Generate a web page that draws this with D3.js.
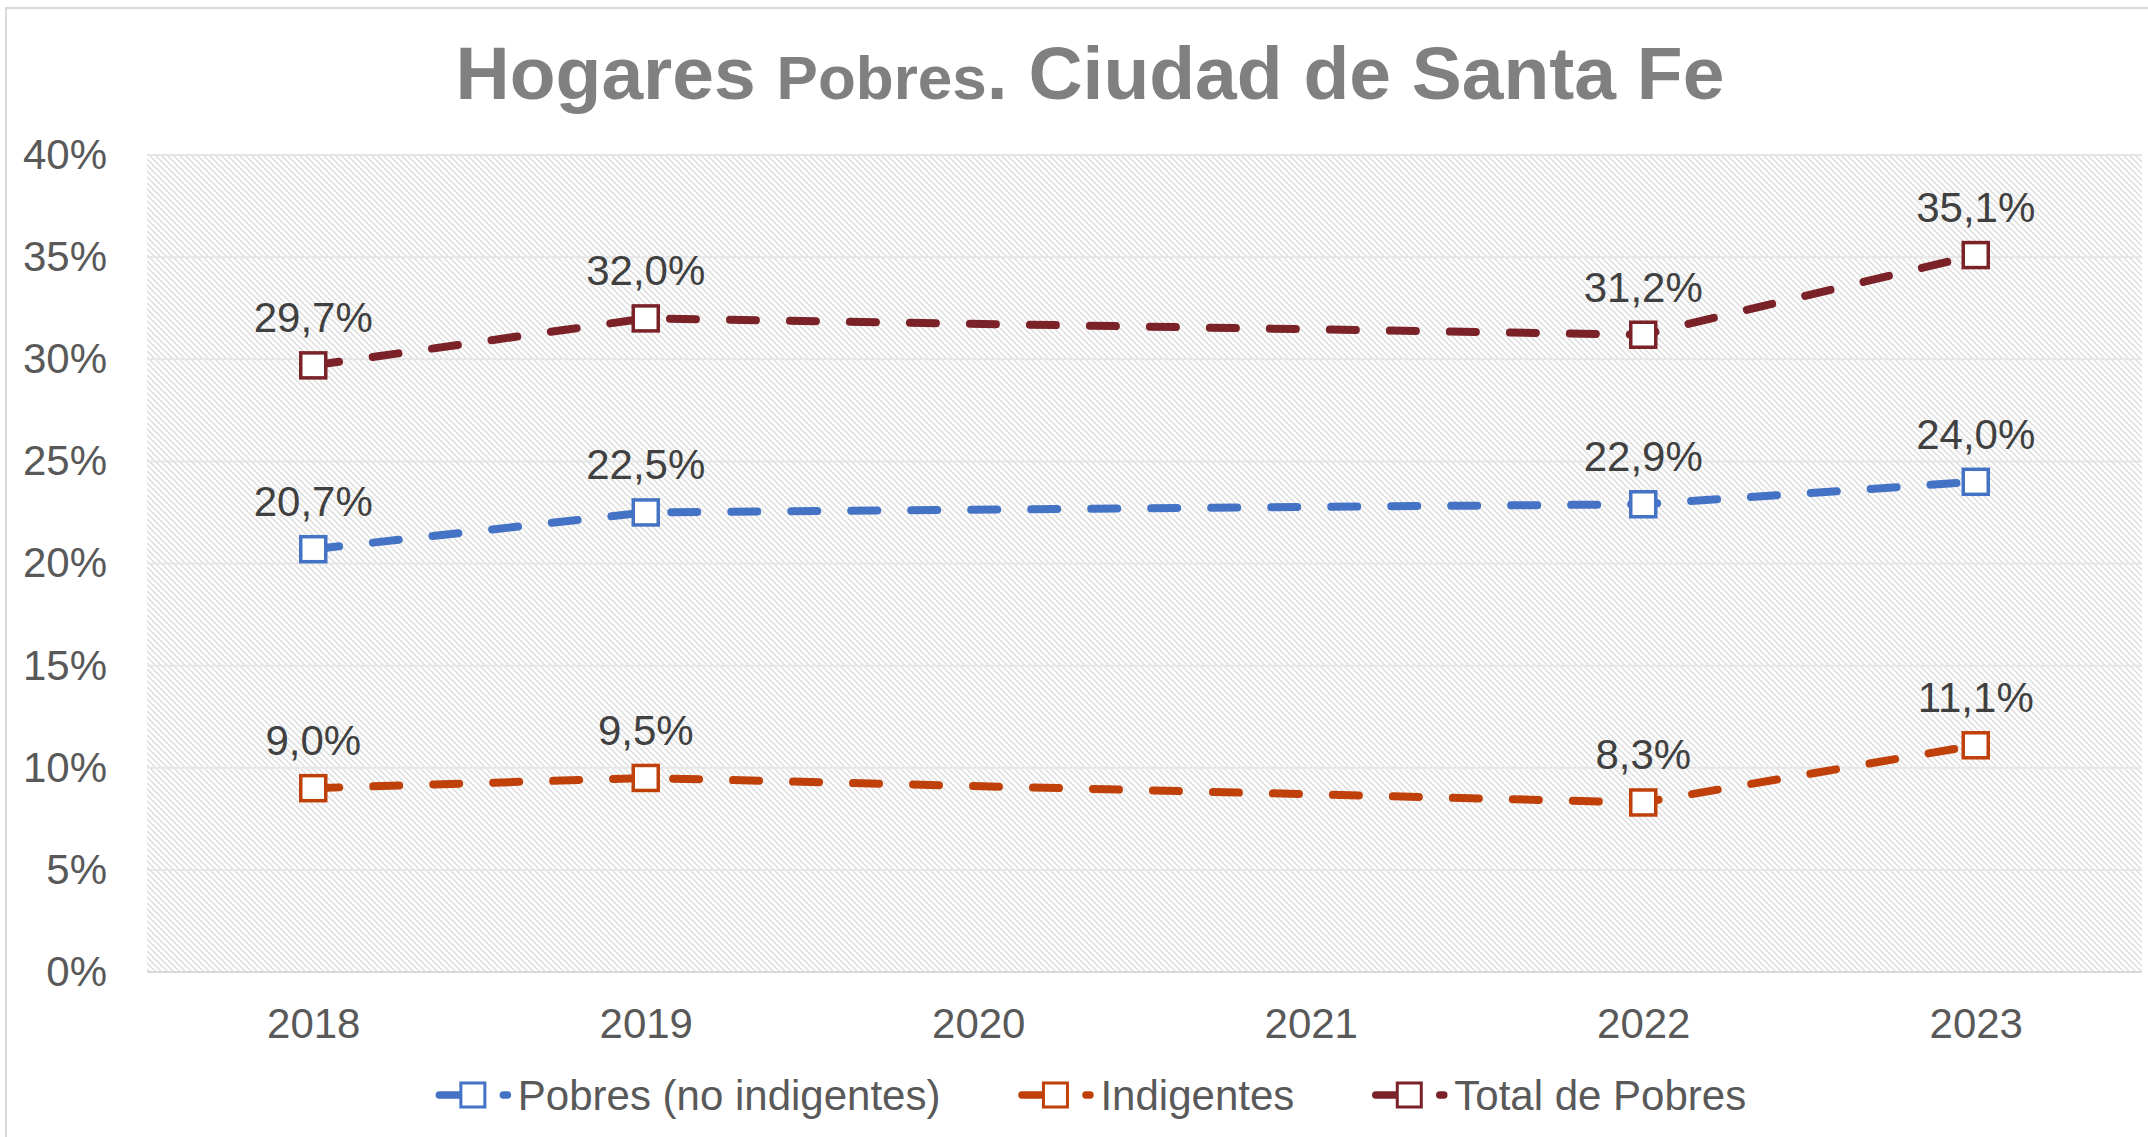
<!DOCTYPE html>
<html>
<head>
<meta charset="utf-8">
<style>
    body { margin: 0; background: #ffffff; }
    svg { display: block; font-family: "Liberation Sans", Arial, sans-serif; }
</style>
<script src="https://cdn.jsdelivr.net/npm/d3@7"></script>
</head>
<body>
<svg id="chart" width="2148" height="1137"></svg>
<script>
    // years on the x axis (2020 and 2021 have no data, the line just joins the gap)
    var years = ["2018", "2019", "2020", "2021", "2022", "2023"];
    var yTicks = [0, 0.05, 0.10, 0.15, 0.20, 0.25, 0.30, 0.35, 0.40];

    var pobresNoIndig = [0.207, 0.225, null, null, 0.229, 0.240];
    var indigentes    = [0.090, 0.095, null, null, 0.083, 0.111];
    var totalPobres   = [0.297, 0.320, null, null, 0.312, 0.351];

    var seriesNames  = ["Pobres (no indigentes)", "Indigentes", "Total de Pobres"];
    var seriesColors = ["#4472C4", "#C0400A", "#7A2228"];
    var seriesValues = [pobresNoIndig, indigentes, totalPobres];

    var svg = d3.select("#chart");
    var plot = { left: 147, right: 2142, top: 155, bottom: 972 };

    var x = d3.scalePoint().domain(years).range([plot.left, plot.right]).padding(0.5);
    var y = d3.scaleLinear().domain([0, 0.40]).range([plot.bottom, plot.top]);

    var pct = function (v) { return d3.format(".1f")(v * 100).replace(".", ",") + "%"; };

    // outer chart frame
    svg.append("rect").attr("x", 6).attr("y", 8).attr("width", 2200).attr("height", 1200)
        .attr("fill", "none").attr("stroke", "#d9d9d9").attr("stroke-width", 2);

    // hatch pattern for the plot area
    var defs = svg.append("defs");
    var pat = defs.append("pattern").attr("id", "hatch")
        .attr("patternUnits", "userSpaceOnUse").attr("width", 6).attr("height", 6);
    pat.append("rect").attr("width", 6).attr("height", 6).attr("fill", "#ffffff");
    pat.append("path").attr("d", "M0,0 L6,6 M-1,5 L1,7 M5,-1 L7,1")
        .attr("stroke", "#dcdcdc").attr("stroke-width", 1.4);

    svg.append("rect")
        .attr("x", plot.left).attr("y", plot.top)
        .attr("width", plot.right - plot.left).attr("height", plot.bottom - plot.top)
        .attr("fill", "url(#hatch)");

    // gridlines
    svg.append("g").selectAll("line").data(yTicks.slice(1)).join("line")
        .attr("x1", plot.left).attr("x2", plot.right)
        .attr("y1", function (d) { return y(d); }).attr("y2", function (d) { return y(d); })
        .attr("stroke", "#e6e6e6").attr("stroke-width", 2);

    // title
    var title = svg.append("text").attr("x", 1090).attr("y", 99)
        .attr("text-anchor", "middle").attr("fill", "#808080").attr("font-weight", "bold");
    title.append("tspan").attr("font-size", 75).text("Hogares ");
    title.append("tspan").attr("font-size", 62).text("Pobres");
    title.append("tspan").attr("font-size", 75).text(". Ciudad de Santa Fe");

    // y axis
    var yAxis = svg.append("g").attr("transform", "translate(" + plot.left + ",0)")
        .call(d3.axisLeft(y).tickValues(yTicks).tickFormat(d3.format(".0%")).tickSize(0).tickPadding(40));
    yAxis.select(".domain").remove();
    yAxis.selectAll("text").attr("font-size", 42).attr("fill", "#595959")
        .attr("font-family", "Liberation Sans, Arial, sans-serif");

    // x axis
    var xAxis = svg.append("g").attr("transform", "translate(0," + plot.bottom + ")")
        .call(d3.axisBottom(x).tickSize(0).tickSizeOuter(0).tickPadding(36));
    xAxis.select(".domain").attr("stroke", "#d9d9d9").attr("stroke-width", 2)
        .attr("d", "M" + plot.left + ",0H" + plot.right);
    xAxis.selectAll("text").attr("font-size", 42).attr("fill", "#595959")
        .attr("font-family", "Liberation Sans, Arial, sans-serif");

    var line = d3.line()
        .x(function (d) { return x(d.year); })
        .y(function (d) { return y(d.value); });

    seriesValues.forEach(function (vals, i) {
        var pts = years.map(function (yr, j) { return { year: yr, value: vals[j] }; })
            .filter(function (d) { return d.value !== null; });
        var g = svg.append("g");
        g.append("path").datum(pts).attr("d", line)
            .attr("fill", "none").attr("stroke", seriesColors[i]).attr("stroke-width", 8)
            .attr("stroke-linecap", "round").attr("stroke-dasharray", "26,34");
        g.selectAll("rect").data(pts).join("rect")
            .attr("x", function (d) { return x(d.year) - 12.5; })
            .attr("y", function (d) { return y(d.value) - 12.5; })
            .attr("width", 25).attr("height", 25)
            .attr("fill", "#ffffff").attr("stroke", seriesColors[i]).attr("stroke-width", 3.5);
        g.selectAll("text").data(pts).join("text")
            .attr("x", function (d) { return x(d.year); })
            .attr("y", function (d) { return y(d.value) - 33; })
            .attr("text-anchor", "middle").attr("font-size", 42).attr("fill", "#404040")
            .text(function (d) { return pct(d.value); });
    });

    // legend
    var legend = svg.append("g").attr("transform", "translate(0,1095)");
    var items = legend.selectAll("g").data(seriesNames).join("g");
    items.append("line").attr("x1", 3.5).attr("x2", 71.5).attr("y1", 0).attr("y2", 0)
        .attr("stroke", function (d, i) { return seriesColors[i]; })
        .attr("stroke-width", 7.5).attr("stroke-linecap", "round").attr("stroke-dasharray", "30,34");
    items.append("rect").attr("x", 25).attr("y", -12).attr("width", 24).attr("height", 24)
        .attr("fill", "#ffffff").attr("stroke", function (d, i) { return seriesColors[i]; })
        .attr("stroke-width", 3);
    items.append("text").attr("x", 82).attr("y", 15).attr("font-size", 42).attr("fill", "#595959")
        .text(function (d) { return d; });

    var widths = [];
    items.each(function () { widths.push(82 + d3.select(this).select("text").node().getComputedTextLength()); });
    var gap = 78;
    var total = d3.sum(widths) + gap * (widths.length - 1);
    var cx = 1091 - total / 2;
    items.attr("transform", function (d, i) {
        var pos = cx;
        for (var k = 0; k < i; k++) pos += widths[k] + gap;
        return "translate(" + pos + ",0)";
    });
</script>
</body>
</html>
